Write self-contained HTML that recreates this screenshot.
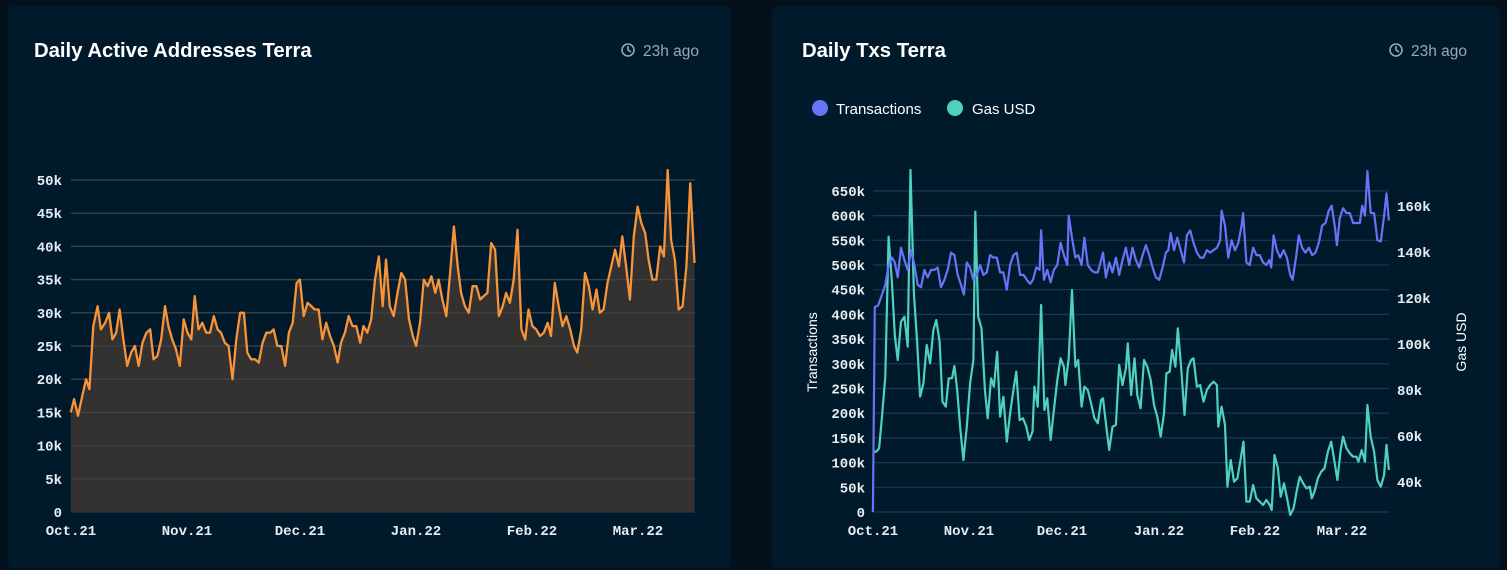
<!DOCTYPE html>
<html><head><meta charset="utf-8"><style>
html,body{margin:0;padding:0;background:#02111b;width:1507px;height:570px;overflow:hidden;font-family:"Liberation Sans",sans-serif}
.p{position:absolute;top:6px;height:562px;background:#011a2b;border-radius:6px}
svg{position:absolute;left:0;top:0}
</style></head><body>
<div class="p" style="left:8px;width:723px"></div>
<div class="p" style="left:772px;width:728px"></div>
<svg width="1507" height="570" id="s" xmlns="http://www.w3.org/2000/svg">
<g font-family="Liberation Sans, sans-serif">
<text x="34" y="57" fill="#fff" font-size="20.3" font-weight="bold">Daily Active Addresses Terra</text>
<text x="802" y="57" fill="#fff" font-size="20.3" font-weight="bold">Daily Txs Terra</text>
<g fill="none" stroke="#9aa6b2" stroke-width="1.6"><circle cx="628" cy="50" r="6"/><path d="M628 46v4l3 2"/><circle cx="1396" cy="50" r="6"/><path d="M1396 46v4l3 2"/></g>
<text x="643" y="56" fill="#9aa6b2" font-size="15.5">23h ago</text>
<text x="1411" y="56" fill="#9aa6b2" font-size="15.5">23h ago</text>
<circle cx="820" cy="108" r="8" fill="#6674f5"/><text x="836" y="114" fill="#fff" font-size="15">Transactions</text>
<circle cx="955" cy="108" r="8" fill="#4fd1c0"/><text x="972" y="114" fill="#fff" font-size="15">Gas USD</text>
<text transform="translate(817,352) rotate(-90)" text-anchor="middle" fill="#fff" font-size="14">Transactions</text>
<text transform="translate(1466,342) rotate(-90)" text-anchor="middle" fill="#fff" font-size="14">Gas USD</text>
</g>
<g id="g"></g>
</svg>
<script>
var NS="http://www.w3.org/2000/svg",g=document.getElementById('g');
function el(t,a,txt){var e=document.createElementNS(NS,t);for(var k in a)e.setAttribute(k,a[k]);if(txt!=null)e.textContent=txt;g.appendChild(e);return e;}
var mono={"font-family":"Liberation Mono, monospace","font-size":"14","font-weight":"bold",fill:"#e6ecf2"};
function T(x,y,s,anc){var a=Object.assign({x:x,y:y,"text-anchor":anc},mono);el('text',a,s);}
for(var i=0;i<=10;i++){var y=512-i*33.2;el('line',{x1:71,x2:695,y1:y,y2:y,stroke:i==0?'#1f3a50':'#1a3a52','stroke-width':1.2});T(62,y+5,i==0?'0':(i*5)+'k','end');}
var L=[[148,15],[155,17],[163,14.5],[172,17.5],[180,20],[187,18.5],[195,28],[204,31],[211,27.5],[220,28.5],[228,30],[235,26],[243,27],[250,30.5],[258,26],[266,22],[274,24],[282,25],[290,22],[298,25.5],[306,27],[314,27.5],[321,23],[329,23.5],[337,26],[345,31],[352,28],[360,26],[368,24.5],[376,22],[384,29],[392,27],[400,26],[407,32.5],[415,27.5],[423,28.5],[431,27],[439,27],[447,29.5],[455,27.5],[462,27],[470,25.5],[478,25],[486,20],[494,26],[502,30],[510,30],[517,24],[525,23],[533,23],[541,22.5],[549,25.5],[557,27],[565,27],[572,27.5],[580,25],[588,25],[596,22],[604,27],[612,28.5],[620,34.5],[627,35],[635,29.5],[643,31.5],[651,31],[658,30.5],[666,30.5],[674,26],[682,28.5],[690,26.5],[698,25],[706,22.5],[713,25.5],[721,27],[729,29.5],[737,28],[745,28],[753,25.5],[760,28],[768,27],[776,29],[784,35],[792,38.5],[800,31],[807,38],[815,31],[823,29.5],[831,33],[839,36],[847,35],[855,29],[863,26.5],[870,25],[878,28.5],[886,35],[894,34],[902,35.5],[910,33],[917,35],[925,32],[933,29.5],[941,36],[949,43],[957,37],[964,33],[972,31],[980,30],[988,34],[996,34],[1004,32],[1011,32.5],[1019,33],[1027,40.5],[1035,39.5],[1043,29.5],[1051,31],[1058,33],[1066,31.5],[1074,35],[1082,42.5],[1090,27.5],[1098,26],[1105,30.5],[1113,28],[1121,27.5],[1129,26.5],[1137,27],[1145,28.5],[1152,26.5],[1160,34.5],[1168,31],[1176,28],[1184,29.5],[1192,27.5],[1200,25],[1207,24],[1215,27.5],[1223,36],[1231,34],[1239,30.5],[1247,33.5],[1254,30],[1262,30.5],[1270,34.5],[1278,37],[1286,39.5],[1294,37],[1301,41.5],[1309,37],[1317,32],[1325,41.5],[1333,46],[1341,43.5],[1349,42],[1356,38],[1364,35],[1372,35],[1380,40],[1388,38.5],[1396,51.5],[1403,41],[1411,38],[1419,30.5],[1427,31],[1435,37],[1443,49.5],[1452,37.5]];
var sx=750/1568,pts=L.map(function(p){return (p[0]*sx).toFixed(1)+','+(512-p[1]*6.64).toFixed(1)});
el('polygon',{points:(148*sx).toFixed(1)+',512 '+pts.join(' ')+' '+(1452*sx).toFixed(1)+',512',fill:'#333230'});
for(var i=1;i<=10;i++){var y=512-i*33.2;el('line',{x1:71,x2:695,y1:y,y2:y,stroke:'#3d4448','stroke-width':1.2});}
el('polyline',{points:pts.join(' '),fill:'none',stroke:'#f7943a','stroke-width':2.3,'stroke-linejoin':'round'});
[['Oct.21',71],['Nov.21',187],['Dec.21',300],['Jan.22',416],['Feb.22',532],['Mar.22',638]].forEach(function(a){T(a[1],535,a[0],'middle')});
for(var i=0;i<=13;i++){var y=512-i*24.7;el('line',{x1:873,x2:1389,y1:y,y2:y,stroke:'#1a3a52','stroke-width':1.2});T(865,y+5,i==0?'0':(i*50)+'k','end');}
[40,60,80,100,120,140,160].forEach(function(v){var y=482-(v-40)*2.3;T(1397,y+5,v+'k','start')});
var TX=[[237,0],[241,415],[248,418],[256,440],[263,460],[270,500],[277,515],[283,505],[289,475],[296,535],[303,510],[310,490],[317,530],[324,500],[331,460],[338,455],[345,490],[352,475],[359,490],[366,490],[373,495],[380,455],[387,470],[394,490],[401,525],[408,520],[415,480],[422,460],[428,440],[434,505],[441,495],[448,470],[455,480],[462,500],[469,480],[476,485],[483,520],[490,515],[497,515],[504,485],[511,485],[518,450],[525,500],[532,520],[539,525],[546,480],[553,480],[560,470],[567,462],[573,470],[580,495],[587,490],[590,570],[596,470],[603,490],[610,465],[617,490],[624,500],[631,545],[638,520],[645,500],[648,600],[655,555],[662,515],[668,520],[675,500],[681,555],[688,500],[695,490],[702,485],[709,485],[716,510],[720,525],[726,475],[733,505],[740,485],[747,515],[754,480],[761,510],[768,535],[775,500],[782,535],[789,510],[796,495],[803,520],[810,540],[817,520],[824,495],[831,475],[838,470],[845,495],[852,525],[857,530],[862,565],[869,530],[876,555],[883,530],[890,505],[896,560],[903,570],[910,545],[917,525],[924,515],[931,515],[938,530],[945,525],[952,530],[959,535],[966,550],[969,610],[976,580],[983,515],[990,550],[997,530],[1004,545],[1011,580],[1014,605],[1021,505],[1028,500],[1035,535],[1042,520],[1049,520],[1056,505],[1063,500],[1069,510],[1073,495],[1078,560],[1085,530],[1092,515],[1099,530],[1106,515],[1113,480],[1118,470],[1125,515],[1131,560],[1138,535],[1145,525],[1152,535],[1159,520],[1166,525],[1173,545],[1180,580],[1187,585],[1194,610],[1200,620],[1207,575],[1211,540],[1217,595],[1224,615],[1231,605],[1238,605],[1245,585],[1252,585],[1259,585],[1264,620],[1270,600],[1275,690],[1282,605],[1289,605],[1296,550],[1303,548],[1310,600],[1315,645],[1320,590]];
var GS=[[237,905],[244,905],[250,895],[256,800],[263,680],[270,260],[277,400],[283,555],[289,630],[296,515],[303,500],[310,590],[316,60],[323,430],[330,580],[336,740],[343,700],[350,585],[357,640],[364,540],[370,510],[377,575],[383,755],[390,770],[396,685],[403,685],[408,648],[414,720],[420,830],[427,930],[434,830],[441,700],[448,630],[452,185],[458,500],[465,535],[472,720],[478,805],[485,685],[491,710],[498,605],[504,800],[511,740],[518,875],[525,790],[532,720],[538,665],[545,810],[552,805],[559,830],[565,870],[572,845],[576,710],[583,770],[590,465],[597,780],[603,745],[610,870],[617,780],[624,690],[631,625],[638,650],[641,705],[648,625],[655,420],[662,650],[668,630],[675,770],[681,710],[688,720],[695,760],[702,805],[709,820],[716,750],[720,745],[727,830],[733,900],[740,830],[747,825],[754,645],[761,705],[768,655],[772,580],[779,735],[786,625],[792,735],[799,775],[806,630],[813,650],[820,690],[827,765],[834,800],[841,860],[848,790],[853,670],[860,665],[865,600],[872,650],[877,535],[884,650],[891,795],[898,655],[905,630],[910,625],[917,710],[924,705],[931,755],[938,720],[945,705],[952,695],[959,705],[962,830],[969,770],[976,825],[981,1010],[988,930],[995,995],[1002,985],[1008,935],[1015,875],[1021,1055],[1028,1055],[1035,1005],[1042,1045],[1049,1055],[1056,1065],[1063,1050],[1070,1065],[1074,1080],[1080,915],[1087,955],[1093,1040],[1100,1000],[1107,1050],[1113,1095],[1120,1075],[1127,1020],[1133,980],[1140,1000],[1147,1015],[1154,1010],[1158,1045],[1164,1025],[1171,985],[1178,965],[1185,955],[1192,905],[1199,875],[1206,935],[1212,990],[1219,900],[1224,860],[1231,895],[1238,910],[1245,920],[1252,920],[1256,935],[1263,900],[1270,935],[1275,765],[1282,860],[1289,905],[1296,990],[1303,1010],[1310,975],[1315,885],[1320,960]];
var rx=747/1568;
el('polyline',{points:GS.map(function(p){return (760+p[0]*rx).toFixed(1)+','+(150+p[1]/3).toFixed(1)}).join(' '),fill:'none',stroke:'#4fd1c0','stroke-width':2.2,'stroke-linejoin':'round'});
el('polyline',{points:TX.map(function(p){return (760+p[0]*rx).toFixed(1)+','+(512-p[1]*0.494).toFixed(1)}).join(' '),fill:'none',stroke:'#6674f5','stroke-width':2.2,'stroke-linejoin':'round'});
[['Oct.21',873],['Nov.21',969],['Dec.21',1062],['Jan.22',1159],['Feb.22',1255],['Mar.22',1342]].forEach(function(a){T(a[1],535,a[0],'middle')});
</script>
</body></html>
